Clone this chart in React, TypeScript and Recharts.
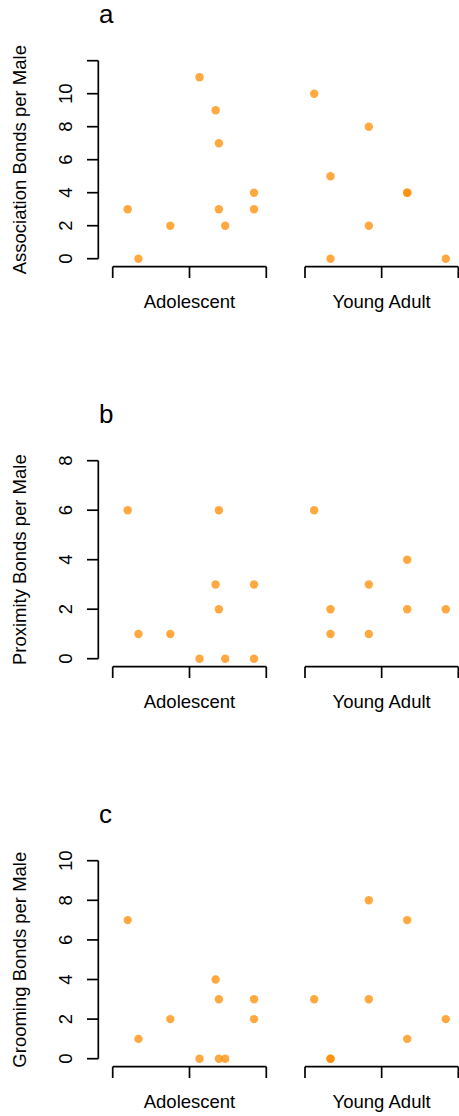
import React from 'react';
import { ScatterChart, Scatter, XAxis, YAxis } from 'recharts';

// ---- data ----
const groups = ['Adolescent', 'Young Adult'];

// position of each male along its group's axis (axis spans 0..4)
const xAdolescent = [0.39, 0.67, 1.5, 2.26, 2.68, 2.765, 2.765, 2.93, 3.68, 3.68];
const xYoungAdult = [0.24, 0.665, 0.665, 1.665, 1.665, 2.667, 2.667, 3.674];

const associationAdolescent = [3, 0, 2, 11, 9, 7, 3, 2, 4, 3];
const associationYoungAdult = [10, 5, 0, 8, 2, 4, 4, 0];

const proximityAdolescent = [6, 1, 1, 0, 3, 6, 2, 0, 3, 0];
const proximityYoungAdult = [6, 2, 1, 3, 1, 4, 2, 2];

const groomingAdolescent = [7, 1, 2, 0, 4, 3, 0, 0, 3, 2];
const groomingYoungAdult = [3, 0, 0, 8, 3, 7, 1, 2];

const yTicksA = [0, 2, 4, 6, 8, 10, 12];
const yTickLabelsA = ['0', '2', '4', '6', '8', '10', ''];
const yTicksB = [0, 2, 4, 6, 8];
const yTickLabelsB = ['0', '2', '4', '6', '8'];
const yTicksC = [0, 2, 4, 6, 8, 10];
const yTickLabelsC = ['0', '2', '4', '6', '8', '10'];

const xTicks = [0, 2, 4];

const panelLetters = ['a', 'b', 'c'];
const yTitles = ['Association Bonds per Male', 'Proximity Bonds per Male', 'Grooming Bonds per Male'];

// ---- style ----
const FONT = '"Liberation Sans", Arial, Helvetica, sans-serif';
const FS = 18.5;
const POINT = '#FF8C00';
const PANEL_H = 400;
const CHART_H = 330;
const PLOT_TOP = 60.7;
const XAXIS_H = 63.3; // plot bottom (x-axis line) at 266.7
const ZERO_GAP = 8; // x-axis line sits 8px below the zero value
const YAXIS_W = 98.3;

const toPoints = (xs: number[], ys: number[]) => xs.map((x, i) => ({ x, y: ys[i] }));

const Dot = (p: any) => <circle cx={p.cx} cy={p.cy} r={4.2} fill={POINT} fillOpacity={0.75} />;
const NoDot = () => <g />;

const XLabel = (label: string) => (props: any) => {
  const vb = props.viewBox || {};
  return (
    <text x={vb.x + vb.width / 2} y={vb.y + 41.6} textAnchor="middle" fontSize={FS} fontFamily={FONT} fill="#000">
      {label}
    </text>
  );
};

function PointsChart({ data, yMax, label, left, width, mLeft, mRight }: any) {
  return (
    <div style={{ position: 'absolute', left, top: 0, width, height: CHART_H }}>
      <ScatterChart width={width} height={CHART_H} margin={{ top: PLOT_TOP, right: mRight, bottom: 0, left: mLeft }}>
        <XAxis
          type="number"
          dataKey="x"
          domain={[0, 4]}
          ticks={xTicks}
          interval={0}
          height={XAXIS_H}
          stroke="#000"
          axisLine={{ stroke: '#000', strokeWidth: 1.7 }}
          tickLine={{ stroke: '#000', strokeWidth: 1.7 }}
          tickSize={11.3}
          tick={() => <g />}
          label={{ content: XLabel(label) }}
        />
        <YAxis type="number" dataKey="y" domain={[0, yMax]} hide width={0} padding={{ top: 0, bottom: ZERO_GAP }} />
        <Scatter data={data} shape={Dot} isAnimationActive={false} />
      </ScatterChart>
    </div>
  );
}

function YAxisChart({ yMax, ticks, labels, title, data }: any) {
  const Tick = (p: any) => {
    const i = ticks.indexOf(p.payload.value);
    return (
      <text
        x={p.x}
        y={p.y}
        transform={`rotate(-90 ${p.x} ${p.y})`}
        textAnchor="middle"
        fontSize={FS}
        fontFamily={FONT}
        fill="#000"
      >
        {labels[i]}
      </text>
    );
  };
  const Title = (props: any) => {
    const vb = props.viewBox || {};
    const cy = vb.y + vb.height / 2;
    const x = 26;
    return (
      <text x={x} y={cy} transform={`rotate(-90 ${x} ${cy})`} textAnchor="middle" fontSize={FS} fontFamily={FONT} fill="#000">
        {title}
      </text>
    );
  };
  const w = 110;
  return (
    <div style={{ position: 'absolute', left: 0, top: 0, width: w, height: CHART_H }}>
      <ScatterChart width={w} height={CHART_H} margin={{ top: PLOT_TOP, right: 0, bottom: CHART_H - 266.7 + ZERO_GAP, left: 0 }}>
        <XAxis type="number" dataKey="x" domain={[0, 4]} hide height={0} />
        <YAxis
          type="number"
          dataKey="y"
          domain={[0, yMax]}
          ticks={ticks}
          interval={0}
          width={YAXIS_W}
          stroke="#000"
          axisLine={{ stroke: '#000', strokeWidth: 1.7 }}
          tickLine={{ stroke: '#000', strokeWidth: 1.7 }}
          tickSize={11.3}
          tickMargin={15.3}
          tick={Tick}
          label={{ content: Title }}
        />
        <Scatter data={data} shape={NoDot} isAnimationActive={false} />
      </ScatterChart>
    </div>
  );
}

function Panel({ index, yMax, ticks, labels, ado, ya }: any) {
  const adoPts = toPoints(xAdolescent, ado);
  const yaPts = toPoints(xYoungAdult, ya);
  return (
    <div style={{ position: 'absolute', left: 0, top: index * PANEL_H, width: 459, height: PANEL_H }}>
      <svg width={459} height={40} style={{ position: 'absolute', left: 0, top: 0 }}>
        <text x={99} y={23.3} fontSize={26} fontFamily={FONT} fill="#000">
          {panelLetters[index]}
        </text>
      </svg>
      <YAxisChart yMax={yMax} ticks={ticks} labels={labels} title={yTitles[index]} data={adoPts.concat(yaPts)} />
      <PointsChart data={adoPts} yMax={yMax} label={groups[0]} left={0} width={275} mLeft={112.7} mRight={8.7} />
      <PointsChart data={yaPts} yMax={yMax} label={groups[1]} left={290} width={169} mLeft={15} mRight={0.7} />
    </div>
  );
}

export default function App() {
  return (
    <div style={{ position: 'absolute', left: 0, top: 0, width: 459, height: 1116, background: '#fff', fontFamily: FONT }}>
      <Panel index={0} yMax={12} ticks={yTicksA} labels={yTickLabelsA} ado={associationAdolescent} ya={associationYoungAdult} />
      <Panel index={1} yMax={8} ticks={yTicksB} labels={yTickLabelsB} ado={proximityAdolescent} ya={proximityYoungAdult} />
      <Panel index={2} yMax={10} ticks={yTicksC} labels={yTickLabelsC} ado={groomingAdolescent} ya={groomingYoungAdult} />
    </div>
  );
}
